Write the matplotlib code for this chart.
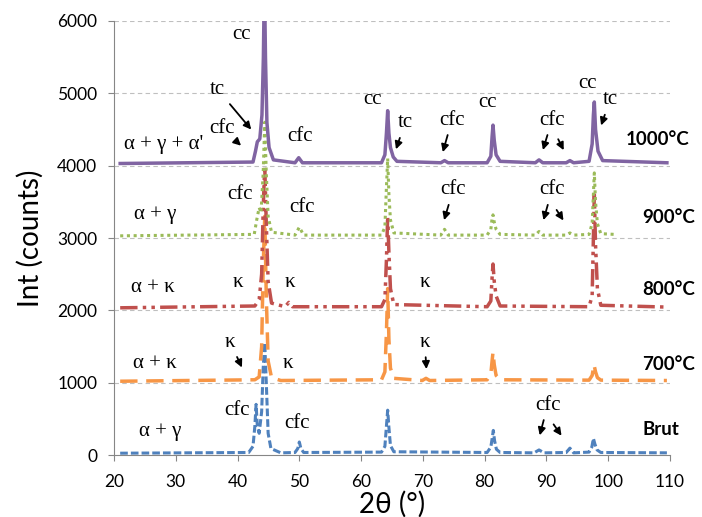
import matplotlib.pyplot as plt

# 2-theta / intensity points
brut_x = [21, 41.8, 42.5, 42.8, 43.0, 43.2, 43.5, 43.9, 44.15, 44.4, 44.65, 44.95, 45.4, 47, 49.3, 49.75, 50.0, 50.25,
          50.7, 63.3, 63.85, 64.1, 64.3, 64.5, 64.75, 65.3, 80.4, 81.0, 81.25, 81.4, 81.6, 81.9, 82.5, 88.0, 88.8,
          89.6, 93.2, 93.8, 94.4, 96.9, 97.35, 97.6, 97.85, 98.2, 98.8, 109.5]
brut_y = [25, 35, 120, 400, 700, 400, 300, 600, 1200, 1550, 1000, 300, 90, 30, 35, 90, 180, 90,
          35, 40, 120, 400, 620, 380, 130, 45, 35, 110, 250, 340, 200, 80, 35, 30, 70,
          30, 35, 95, 30, 40, 110, 230, 150, 70, 35, 30]

t700_x = [21, 42.8, 43.5, 43.9, 44.15, 44.4, 44.65, 44.95, 45.5, 47, 63.3, 63.85, 64.1, 64.3, 64.5, 64.75, 65.3,
          69.9, 70.5, 71.1, 80.4, 81.0, 81.2, 81.35, 81.55, 81.85, 82.5, 96.9, 97.4, 97.7, 97.95, 98.25, 98.8, 109.5]
t700_y = [1020, 1040, 1080, 1500, 2600, 3300, 2200, 1300, 1070, 1030, 1040, 1150, 1700, 2300, 1600, 1200, 1060,
          1030, 1060, 1030, 1040, 1120, 1300, 1420, 1250, 1100, 1040, 1035, 1100, 1250, 1150, 1070, 1035, 1030]

t800_x = [21, 42.8, 43.5, 43.9, 44.15, 44.4, 44.65, 44.95, 45.5, 47.7, 48.3, 48.9, 63.3, 63.85, 64.1, 64.3, 64.5,
          64.75, 65.3, 80.4, 81.0, 81.2, 81.35, 81.55, 81.85, 82.5, 96.9, 97.4, 97.6, 97.75, 97.95, 98.25, 98.8, 109.5]
t800_y = [2035, 2060, 2150, 2500, 3400, 4000, 3200, 2400, 2100, 2050, 2110, 2050, 2050, 2150, 2700, 3300, 2800,
          2300, 2080, 2050, 2130, 2450, 2640, 2400, 2200, 2060, 2050, 2200, 3000, 3600, 2900, 2300, 2070, 2045]

t900_x = [21, 42.7, 43.1, 43.5, 43.8, 44.15, 44.4, 44.65, 44.95, 45.5, 49.3, 50.0, 50.7, 63.3, 63.85, 64.1, 64.3,
          64.5, 64.75, 65.3, 72.9, 73.5, 74.1, 80.4, 81.0, 81.2, 81.35, 81.55, 81.85, 82.5, 88.2, 88.8, 89.4, 93.2,
          93.8, 94.4, 96.9, 97.4, 97.6, 97.75, 97.95, 98.25, 98.8, 101]
t900_y = [3030, 3050, 3250, 3420, 3350, 3900, 4600, 3900, 3300, 3080, 3040, 3150, 3040, 3040, 3150, 3700, 4100,
          3600, 3250, 3070, 3040, 3120, 3040, 3040, 3120, 3270, 3320, 3220, 3120, 3050, 3040, 3090, 3040, 3040,
          3070, 3040, 3050, 3200, 3600, 3900, 3500, 3200, 3060, 3050]

t1000_x = [21, 42.5, 42.9, 43.2, 43.6, 43.95, 44.18, 44.35, 44.52, 44.75, 45.1, 45.8, 49.3, 49.9, 50.5, 63.3, 63.85,
           64.1, 64.3, 64.5, 64.75, 65.2, 65.8, 72.9, 73.5, 74.1, 80.4, 81.0, 81.2, 81.35, 81.55, 81.85, 82.5, 88.2,
           88.8, 89.4, 93.2, 93.8, 94.4, 96.9, 97.4, 97.6, 97.75, 97.95, 98.35, 99.1, 109.5]
t1000_y = [4030, 4050, 4200, 4330, 4370, 4700, 5500, 6600, 5500, 4600, 4250, 4080, 4040, 4110, 4040, 4040, 4150,
           4450, 4760, 4450, 4250, 4120, 4060, 4040, 4070, 4040, 4040, 4130, 4400, 4560, 4350, 4150, 4060, 4040,
           4080, 4040, 4040, 4070, 4040, 4060, 4300, 4700, 4880, 4500, 4200, 4070, 4040]

temp_labels = ['Brut', '700°C', '800°C', '900°C', '1000°C']
temp_label_x = [105.5, 105.5, 105.5, 105.5, 102.8]
temp_label_y = [346, 1245, 2282, 3278, 4357]

fig = plt.figure(figsize=(7.02, 5.17), dpi=100)
ax = fig.add_axes([0.1624, 0.1199, 0.792, 0.8395])

ax.plot(brut_x, brut_y, color='#4f81bd', lw=2.2, dashes=(2.5, 1))
ax.plot(t700_x, t700_y, color='#f79646', lw=2.5, dashes=(5, 2.5))
ax.plot(t800_x, t800_y, color='#c0504d', lw=2.5, dashes=(5, 1.5, 1, 1.5, 1, 1.5))
ax.plot(t900_x, t900_y, color='#9bbb59', lw=2.2, dashes=(1, 1.2))
ax.plot(t1000_x, t1000_y, color='#8064a2', lw=2.5)

ax.set_xlim(20, 110)
ax.set_ylim(0, 6000)
ax.set_xticks(range(20, 111, 10))
ax.set_yticks(range(0, 6001, 1000))
for v in range(1000, 6001, 1000):
    ax.axhline(v, color='#bfbfbf', lw=0.8, ls=(0, (4, 3)), zorder=0)

for s in ['top', 'right']:
    ax.spines[s].set_visible(False)
for s in ['left', 'bottom']:
    ax.spines[s].set_color('#868686')
ax.tick_params(colors='#868686', labelcolor='black', labelsize=12.5, length=4)
ax.tick_params(axis='y', pad=8)
ax.tick_params(axis='x', pad=10)
for lab in ax.get_xticklabels() + ax.get_yticklabels():
    lab.set_family('Lato')

ax.set_ylabel('Int (counts)', fontsize=20, family='Lato', labelpad=10)
ax.set_xlabel('2θ (°)', fontsize=20, family='Lato', labelpad=0)

for t, tx, ty in zip(temp_labels, temp_label_x, temp_label_y):
    ax.text(tx, ty, t, fontsize=13.5, fontweight='bold', family='Lato', va='center', ha='left', clip_on=False)

serif = dict(fontsize=15, family='Liberation Serif', ha='center', va='center')
arrow = dict(arrowstyle='-|>', color='black', lw=1.3, mutation_scale=11)

# 1000 °C
ax.text(28.1, 4290, "α + γ + α'", **serif)
ax.text(40.6, 5810, 'cc', **serif)
ax.annotate('tc', xy=(42.5, 4470), xytext=(36.8, 5050), arrowprops=arrow, **serif)
ax.annotate('cfc', xy=(40.9, 4250), xytext=(37.5, 4520), arrowprops=arrow, **serif)
ax.text(50.1, 4400, 'cfc', **serif)
ax.text(61.9, 4910, 'cc', **serif)
ax.annotate('tc', xy=(65.5, 4190), xytext=(67.1, 4590), arrowprops=arrow, **serif)
ax.annotate('cfc', xy=(73.1, 4150), xytext=(74.7, 4630), arrowprops=arrow, **serif)
ax.text(80.5, 4870, 'cc', **serif)
ax.annotate('cfc', xy=(89.3, 4180), xytext=(90.9, 4630), arrowprops=arrow, **serif)
ax.annotate('', xy=(93.0, 4180), xytext=(91.7, 4400), arrowprops=arrow)
ax.text(96.7, 5140, 'cc', **serif)
ax.annotate('tc', xy=(98.7, 4520), xytext=(100.3, 4910), arrowprops=arrow, **serif)

# 900 °C
ax.text(26.6, 3320, 'α + γ', **serif)
ax.text(40.4, 3600, 'cfc', **serif)
ax.text(50.4, 3420, 'cfc', **serif)
ax.annotate('cfc', xy=(73.3, 3210), xytext=(74.9, 3665), arrowprops=arrow, **serif)
ax.annotate('cfc', xy=(89.4, 3210), xytext=(90.9, 3665), arrowprops=arrow, **serif)
ax.annotate('', xy=(93.0, 3210), xytext=(91.4, 3420), arrowprops=arrow)

# 800 °C
ax.text(26.3, 2320, 'α + κ', **serif)
ax.text(40.1, 2380, 'κ', **serif)
ax.text(48.5, 2380, 'κ', **serif)
ax.text(70.3, 2380, 'κ', **serif)

# 700 °C
ax.text(26.6, 1270, 'α + κ', **serif)
ax.annotate('κ', xy=(40.9, 1175), xytext=(38.8, 1560), arrowprops=arrow, **serif)
ax.text(48.2, 1270, 'κ', **serif)
ax.annotate('κ', xy=(70.6, 1150), xytext=(70.3, 1560), arrowprops=arrow, **serif)

# Brut
ax.text(27.4, 320, 'α + γ', **serif)
ax.text(39.9, 620, 'cfc', **serif)
ax.text(49.6, 440, 'cfc', **serif)
ax.annotate('cfc', xy=(88.8, 235), xytext=(90.2, 690), arrowprops=arrow, **serif)
ax.annotate('', xy=(92.7, 235), xytext=(90.9, 455), arrowprops=arrow)

fig.savefig('out.png', dpi=100)
